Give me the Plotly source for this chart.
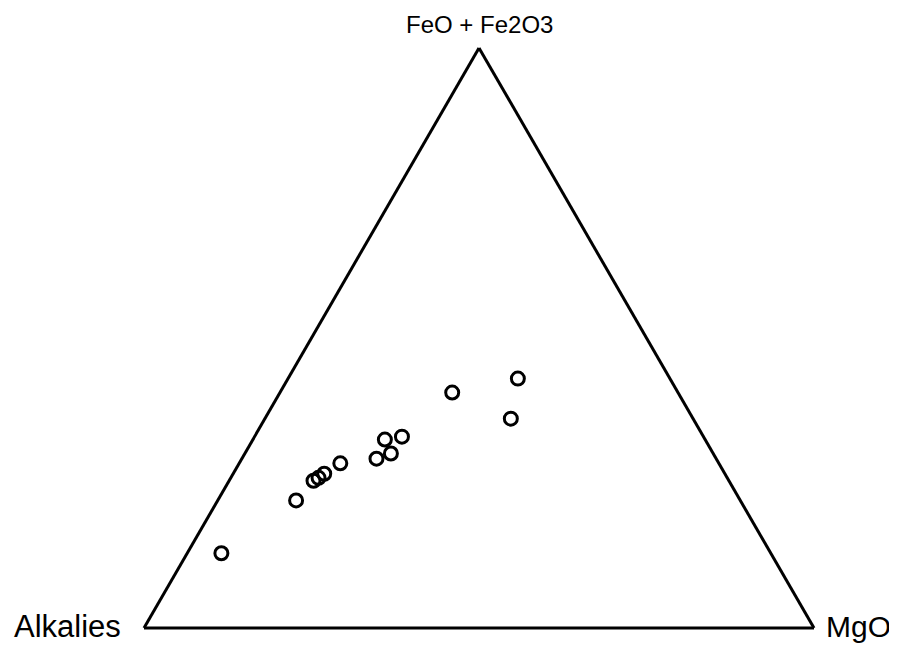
import plotly.graph_objects as go

# Data (fractions)
fe_oxides = [0.129, 0.220, 0.254, 0.259, 0.266, 0.284, 0.292, 0.325, 0.301, 0.330, 0.406, 0.430, 0.361]
alkalies = [0.820, 0.663, 0.620, 0.610, 0.598, 0.565, 0.507, 0.478, 0.481, 0.450, 0.337, 0.227, 0.272]
mgo = [0.051, 0.117, 0.126, 0.131, 0.136, 0.151, 0.201, 0.197, 0.218, 0.220, 0.257, 0.343, 0.367]

apex_labels = ["FeO + Fe2O3", "Alkalies", "MgO"]

fig = go.Figure()

fig.add_trace(go.Scatterternary(
    a=fe_oxides,
    b=alkalies,
    c=mgo,
    mode='markers',
    marker=dict(symbol='circle-open', size=13, color='black', line=dict(width=3, color='black')),
    showlegend=False
))

axis_style = dict(
    showgrid=False, showticklabels=False, ticks='', linecolor='black', linewidth=3,
    title=dict(text='')
)

fig.update_layout(
    ternary=dict(
        sum=1,
        aaxis=axis_style,
        baxis=axis_style,
        caxis=axis_style,
        bgcolor='white'
    ),
    paper_bgcolor='white',
    width=897, height=649,
    margin=dict(l=136, r=91, t=39, b=28),
    font=dict(family='Liberation Sans, Arial, sans-serif', color='black'),
    annotations=[
        dict(text=apex_labels[0], x=0.5, y=1.0, xref='paper', yref='paper',
             xanchor='center', yanchor='bottom', yshift=7, showarrow=False, font=dict(size=24)),
        dict(text=apex_labels[1], x=0.0, y=0.0, xref='paper', yref='paper',
             xanchor='right', yanchor='middle', xshift=-21, yshift=3, showarrow=False, font=dict(size=31)),
        dict(text=apex_labels[2], x=1.0, y=0.0, xref='paper', yref='paper',
             xanchor='left', yanchor='middle', xshift=10, yshift=3, showarrow=False, font=dict(size=30)),
    ]
)

fig.write_html("out.html")
